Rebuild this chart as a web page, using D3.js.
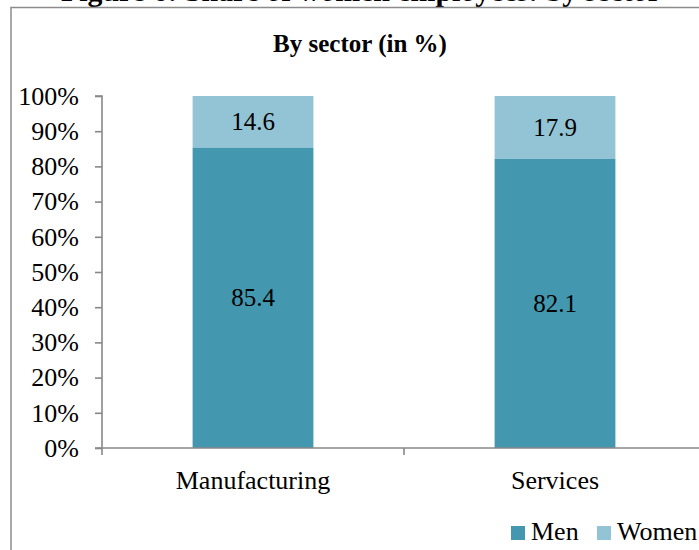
<!DOCTYPE html>
<html>
<head>
<meta charset="utf-8">
<script src="https://cdn.jsdelivr.net/npm/d3@7"></script>
<style>
  html, body { margin: 0; padding: 0; background: #fff; }
  svg { display: block; }
</style>
</head>
<body>
<svg id="chart" width="699" height="550"></svg>
<script>
// Share of employees by sex, per sector (in %)
const sectors = ["Manufacturing", "Services"];
const menShare = [85.4, 82.1];
const womenShare = [14.6, 17.9];
const seriesNames = ["Men", "Women"];
const yTicks = [0, 10, 20, 30, 40, 50, 60, 70, 80, 90, 100];

const colors = { Men: "#4398b0", Women: "#93c4d6" };
const serif = "'Liberation Serif', 'Times New Roman', serif";

const svg = d3.select("#chart");

// Document caption above the chart frame (runs off the top of the page)
svg.append("text")
  .attr("x", 361).attr("y", 1)
  .attr("text-anchor", "middle")
  .attr("font-family", serif)
  .attr("font-weight", "bold")
  .attr("font-size", 29)
  .attr("textLength", 600)
  .attr("lengthAdjust", "spacingAndGlyphs")
  .attr("fill", "#000")
  .text("Figure 6: Share of women employees: by sector");

// Chart frame
svg.append("rect")
  .attr("x", 11).attr("y", 7.5)
  .attr("width", 760).attr("height", 600)
  .attr("fill", "#fff")
  .attr("stroke", "#8c8c8c")
  .attr("stroke-width", 1.5);

// Chart title
svg.append("text")
  .attr("x", 360).attr("y", 52)
  .attr("text-anchor", "middle")
  .attr("font-family", serif)
  .attr("font-weight", "bold")
  .attr("font-size", 25)
  .attr("fill", "#000")
  .text("By sector (in %)");

const x = d3.scaleBand()
  .domain(sectors)
  .range([102, 706])
  .paddingInner(0.6)
  .paddingOuter(0.3);

const y = d3.scaleLinear().domain([0, 100]).range([448, 96]);

// Stack the two series
const rows = sectors.map((s, i) => ({ sector: s, Men: menShare[i], Women: womenShare[i] }));
const stacked = d3.stack().keys(seriesNames)(rows);

const layers = svg.append("g").selectAll("g")
  .data(stacked)
  .join("g")
  .attr("fill", d => colors[d.key]);

layers.selectAll("rect")
  .data(d => d)
  .join("rect")
  .attr("x", d => x(d.data.sector))
  .attr("width", x.bandwidth())
  .attr("y", d => y(d[1]))
  .attr("height", d => y(d[0]) - y(d[1]));

// Value labels centred in each segment
layers.each(function (layer) {
  d3.select(this).selectAll("text")
    .data(layer)
    .join("text")
    .attr("x", d => x(d.data.sector) + x.bandwidth() / 2)
    .attr("y", d => (y(d[0]) + y(d[1])) / 2)
    .attr("dy", "0.35em")
    .attr("text-anchor", "middle")
    .attr("font-family", serif)
    .attr("font-size", 25)
    .attr("fill", "#000")
    .text(d => d3.format(".1f")(d.data[layer.key]));
});

// Y axis
const yAxis = svg.append("g")
  .attr("transform", "translate(102,0)")
  .call(d3.axisLeft(y).tickValues(yTicks).tickSize(7).tickPadding(16).tickFormat(d => d + "%"));
yAxis.select(".domain").attr("d", "M-7," + y(100) + "H0V" + y(0) + "H-7");
yAxis.selectAll("line, path").attr("stroke", "#888").attr("stroke-width", 1.6);
yAxis.selectAll("text")
  .attr("font-family", serif)
  .attr("font-size", 26)
  .attr("fill", "#000");

// X axis with tick marks at the category boundaries
const xAxisG = svg.append("g");
xAxisG.append("line")
  .attr("x1", x.range()[0]).attr("x2", x.range()[1])
  .attr("y1", y(0)).attr("y2", y(0))
  .attr("stroke", "#888").attr("stroke-width", 1.6);
const step = x.step();
const tickXs = d3.range(sectors.length + 1).map(i => x.range()[0] + i * step);
xAxisG.selectAll("line.tick")
  .data(tickXs)
  .join("line")
  .attr("class", "tick")
  .attr("x1", d => d).attr("x2", d => d)
  .attr("y1", y(0)).attr("y2", y(0) + 7)
  .attr("stroke", "#888").attr("stroke-width", 1.6);
xAxisG.selectAll("text")
  .data(sectors)
  .join("text")
  .attr("x", d => x(d) + x.bandwidth() / 2)
  .attr("y", 489)
  .attr("text-anchor", "middle")
  .attr("font-family", serif)
  .attr("font-size", 26)
  .attr("fill", "#000")
  .text(d => d);

// Legend
const legendX = [511, 597];
const legend = svg.append("g").selectAll("g")
  .data(seriesNames)
  .join("g")
  .attr("transform", (d, i) => `translate(${legendX[i]},526)`);
legend.append("rect")
  .attr("width", 14).attr("height", 14)
  .attr("fill", d => colors[d]);
legend.append("text")
  .attr("x", 20).attr("y", 14)
  .attr("font-family", serif)
  .attr("font-size", 26)
  .attr("fill", "#000")
  .text(d => d);
</script>
</body>
</html>
